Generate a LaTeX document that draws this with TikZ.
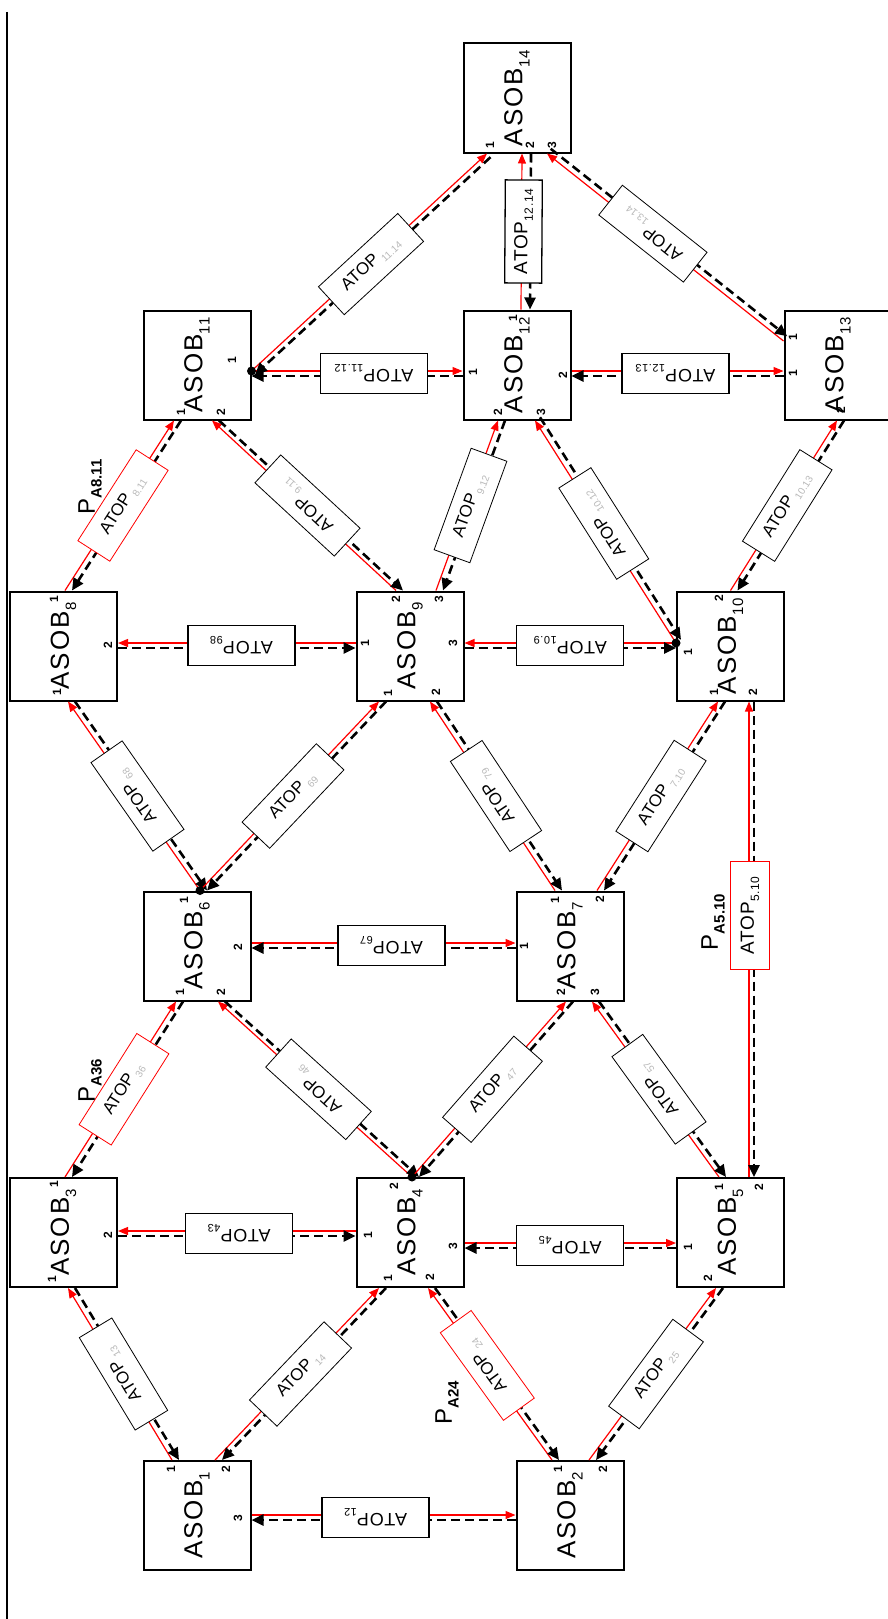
\documentclass[tikz,border=0pt]{standalone}
\usepackage{fontspec}
\setmainfont{Liberation Sans}
\newfontfamily\asobfont[LetterSpace=8]{Liberation Sans}
\newfontfamily\atopfont[LetterSpace=5]{Liberation Sans}
\usetikzlibrary{arrows.meta,calc}

\newcommand{\lowidx}[2][11]{\raisebox{-0.28em}{\fontsize{#1}{#1}\selectfont #2}}

\tikzset{
  asob/.style={draw, line width=2pt, minimum width=107pt, minimum height=109pt,
    inner sep=0pt, font=\asobfont\fontsize{26}{28}\selectfont},
  port/.style={rotate=90, inner sep=0pt, font=\bfseries\fontsize{12}{12}\selectfont},
  redlink/.style={draw=red, line width=1.2pt, -{Triangle[length=10pt,width=8pt]}},
  blklink/.style={draw=black, line width=2.6pt, dash pattern=on 9pt off 5pt,
    -{Triangle[length=12pt,width=11pt]}},
  hatop/.style={draw, fill=white, line width=1.3pt, minimum width=107pt,
    minimum height=40pt, rotate=180, font=\atopfont\fontsize{18}{20}\selectfont},
  datop/.style={draw, fill=white, line width=0.8pt, minimum width=108pt,
    minimum height=38pt, sloped, allow upside down, font=\fontsize{17}{19}\selectfont},
  vatop/.style={draw, fill=white, line width=1.3pt, minimum width=103pt,
    minimum height=37pt, sloped, allow upside down, font=\atopfont\fontsize{19}{21}\selectfont},
  plabel/.style={rotate=90, inner sep=0pt, font=\fontsize{24}{26}\selectfont}
}

\begin{document}
\begin{tikzpicture}[x=1pt, y=-1pt]
    \useasboundingbox (0,0) rectangle (888,1619);
    %% Margin rule
    \coordinate (rtop) at (7,12);
    \coordinate (rbot) at (7,1619);
    \draw[line width=1.2pt] (rtop) -- (rbot);

    %% ASOB boxes
    \node[asob] (a1) at (197,1515.5) {\rotatebox{90}{ASOB\lowidx[15]{1}}};
    \node[asob] (a2) at (570,1515.5) {\rotatebox{90}{ASOB\lowidx[15]{2}}};
    \node[asob] (a3) at (63.5,1232.5) {\rotatebox{90}{ASOB\lowidx[15]{3}}};
    \node[asob] (a4) at (410,1232.5) {\rotatebox{90}{ASOB\lowidx[15]{4}}};
    \node[asob] (a5) at (730.5,1232.5) {\rotatebox{90}{ASOB\lowidx[15]{5}}};
    \node[asob] (a6) at (197,946) {\rotatebox{90}{ASOB\lowidx[15]{6}}};
    \node[asob] (a7) at (570,946) {\rotatebox{90}{ASOB\lowidx[15]{7}}};
    \node[asob] (a8) at (63.5,646) {\rotatebox{90}{ASOB\lowidx[15]{8}}};
    \node[asob] (a9) at (410,646) {\rotatebox{90}{ASOB\lowidx[15]{9}}};
    \node[asob] (a10) at (730.5,646) {\rotatebox{90}{ASOB\lowidx[15]{10}}};
    \node[asob] (a11) at (197,365) {\rotatebox{90}{ASOB\lowidx[15]{11}}};
    \node[asob] (a12) at (517,365) {\rotatebox{90}{ASOB\lowidx[15]{12}}};
    \node[asob] (a13) at (838,365) {\rotatebox{90}{ASOB\lowidx[15]{13}}};
    \node[asob] (a14) at (517,98) {\rotatebox{90}{ASOB\lowidx[15]{14}}};

    %% Ports on the box borders
    \foreach \nm/\nd/\an/\dx/\dy in {
        a1t1/a1/north/-25/0, a1t2/a1/north/18/0, a1r3/a1/east/0/-0.5,
        a2t1/a2/north/-18/0, a2t2/a2/north/19/0, a2l1/a2/west/0/-0.5,
        a3t1/a3/north/1.5/0, a3b1/a3/south/4.5/0, a3r2/a3/east/0/-1.5,
        a4t2/a4/north/2/0, a4l1/a4/west/0/-1.5, a4r3/a4/east/0/10.5,
        a4b1/a4/south/-31/0, a4b2/a4/south/18/0,
        a5t1/a5/north/-11.5/0, a5t2/a5/north/18.5/0, a5l1/a5/west/0/10.5,
        a5b2/a5/south/-14.5/0,
        a6t1/a6/north/3/0, a6b1/a6/south/-21/0, a6b2/a6/south/21/0, a6r2/a6/east/0/-3,
        a7t1/a7/north/-15/0, a7t2/a7/north/27/0, a7l1/a7/west/0/-3,
        a7b2/a7/south/-4/0, a7b3/a7/south/22/0,
        a8t1/a8/north/1.5/0, a8b1/a8/south/4.5/0, a8r2/a8/east/0/-3,
        a9t2/a9/north/-14/0, a9t3/a9/north/26/0, a9l1/a9/west/0/-3, a9r3/a9/east/0/-3,
        a9b1/a9/south/-31/0, a9b2/a9/south/20/0,
        a10t2/a10/north/0/0, a10l1/a10/west/0/-3, a10b1/a10/south/-12.5/0,
        a10b2/a10/south/18.5/0,
        a11r1/a11/east/0/6, a11b1/a11/south/-23/0, a11b2/a11/south/15/0,
        a12t1/a12/north/4/0, a12l1/a12/west/0/6, a12r2/a12/east/0/6,
        a12b2/a12/south/-19/0, a12b3/a12/south/18/0,
        a13l2/a13/west/0/-24, a13l1/a13/west/0/6, a13b2/a13/south/-1/0,
        a14b1/a14/south/-30/0, a14b2/a14/south/5/0, a14b3/a14/south/30/0}
        \coordinate (\nm) at ($(\nd.\an)+(\dx,\dy)$);

    %% Port numbers
    \foreach \x/\y/\d [count=\i] in {
        171/1469/1, 226/1469/2, 238/1518/3,
        558/1469/1, 603/1469/2,
        54/1184/1, 52/1279/1, 108/1235/2,
        394/1186/2, 368/1235/1, 453/1246/3, 388/1278/1, 430/1277/2,
        719/1187/1, 759/1187/2, 688/1247/1, 708/1278/2,
        184/900/1, 180/992/1, 221/992/2, 238/947/2,
        555/900/1, 600/899/2, 524/946/1, 561/992/2, 595/992/3,
        54/599/1, 57/692/1, 108/645/2,
        396/599/2, 439/599/3, 365/643/1, 453/643/3, 388/693/1, 436/692/2,
        719/598/2, 688/652/1, 714/692/1, 753/692/2,
        232/360/1, 181/412/1, 221/412/2,
        513/318/1, 473/372/1, 563/375/2, 498/412/2, 541/412/3,
        793/337/1, 793/373/1, 841/410/2,
        490/145/1, 530/145/2, 552/145/3}
        \node[port] (pn\i) at (\x,\y) {\d};

    %% Horizontal ATOP links
    \foreach \a/\b/\nm/\sub/\ps in {
        a1r3/a2l1/t12/12/0.47, a4l1/a3r2/t43/43/0.49, a4r3/a5l1/t45/45/0.5,
        a6r2/a7l1/t67/67/0.53, a9l1/a8r2/t98/98/0.48, a10l1/a9r3/t10x9/10.9/0.5,
        a11r1/a12l1/t11x12/11.12/0.58, a12r2/a13l1/t12x13/12.13/0.49}
    {
        \draw[redlink] (\a) -- (\b);
        \draw[blklink] ($(\b)+(0,5)$) -- ($(\a)+(0,5)$);
        \path ($(\a)+(0,2.5)$) -- node[hatop, pos=\ps] (\nm) {ATOP\lowidx[11]{\sub}} ($(\b)+(0,2.5)$);
    }

    %% Diagonal ATOP links
    \foreach \a/\b/\nm/\sub/\bc/\ps/\sx/\sy in {
        a1t1/a3b1/t13/13/black/0.5/7/0, a1t2/a4b1/t14/14/black/0.5/7/0,
        a2t1/a4b2/t24/24/red/0.55/7/0, a2t2/a5b2/t25/25/black/0.5/7/0,
        a3t1/a6b1/t36/36/red/0.5/7/0, a4t2/a6b2/t46/46/black/0.5/7/0,
        a4t2/a7b2/t47/47/black/0.5/7/0, a5t1/a7b3/t57/57/black/0.5/7/0,
        a6t1/a8b1/t68/68/black/0.5/7/0, a6t1/a9b1/t69/69/black/0.5/7/0,
        a7t1/a9b2/t79/79/black/0.5/7/0, a7t2/a10b1/t7x10/7.10/black/0.5/7/0,
        a8t1/a11b1/t8x11/8.11/red/0.5/7/0, a9t2/a11b2/t9x11/9.11/black/0.5/7/0,
        a9t3/a12b2/t9x12/9.12/black/0.5/7/0, a10l1/a12b3/t10x12/10.12/black/0.53/5/-3.2,
        a10t2/a13b2/t10x13/10.13/black/0.5/7/0, a11r1/a14b1/t11x14/11.14/black/0.5/3.5/3.7,
        a13l2/a14b3/t13x14/13.14/black/0.56/3.7/-4.7}
    {
        \draw[redlink] (\a) -- (\b);
        \draw[blklink] ($(\b)+(\sx,\sy)$) -- ($(\a)+(\sx,\sy)$);
        \path ($(\a)+({\sx/2},{\sy/2})$) -- node[datop, draw=\bc, pos=\ps] (\nm)
            {ATOP\,\lowidx[10]{\color{gray!55}\sub}} ($(\b)+({\sx/2},{\sy/2})$);
    }

    %% Vertical ATOP links
    \draw[redlink] (a12t1) -- (a14b2);
    \draw[blklink] ($(a14b2)+(9,0)$) -- ($(a12t1)+(9,0)$);
    \path ($(a12t1)+(2,0)$) -- node[vatop, pos=0.5] (t12x14) {ATOP\lowidx[12]{12.14}} ($(a14b2)+(2,0)$);
    \draw[redlink] (a5t2) -- (a10b2);
    \draw[blklink] ($(a10b2)+(5,0)$) -- ($(a5t2)+(5,0)$);
    \path ($(a5t2)+(1,0)$) -- node[vatop, draw=red, line width=1pt, minimum width=108pt,
        minimum height=39pt, pos=0.55] (t5x10) {ATOP\lowidx[12]{5.10}} ($(a10b2)+(1,0)$);

    %% Junction dots
    \foreach \p in {a4t2, a6t1, a10l1, a11r1}
        \fill (\p) circle (4.5pt);

    %% Path names
    \node[plabel] (pA24) at (447,1403) {P\lowidx[15]{\bfseries A24}};
    \node[plabel] (pA36) at (90,1081) {P\lowidx[15]{\bfseries A36}};
    \node[plabel] (pA8x11) at (90,487) {P\lowidx[15]{\bfseries A8.11}};
    \node[plabel] (pA5x10) at (713,922) {P\lowidx[15]{\bfseries A5.10}};
\end{tikzpicture}
\end{document}
